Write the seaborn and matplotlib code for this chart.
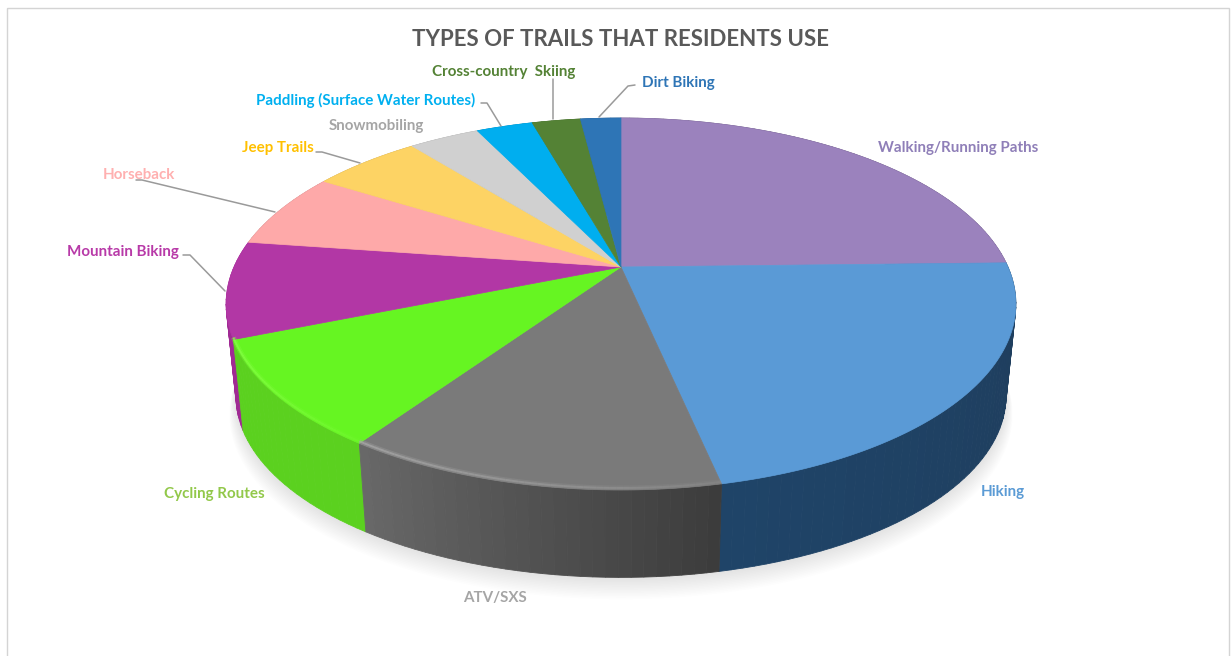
import numpy as np
import matplotlib
matplotlib.use("Agg")
import matplotlib.pyplot as plt
from matplotlib.colors import to_rgb
from matplotlib.patches import Polygon, Rectangle
import seaborn as sns

# Survey shares, clockwise from twelve o'clock
trail_types = ["Walking/Running Paths", "Hiking", "ATV/SXS", "Cycling Routes",
               "Mountain Biking", "Horseback", "Jeep Trails", "Snowmobiling",
               "Paddling (Surface Water Routes)", "Cross-country  Skiing", "Dirt Biking"]
shares = [24.6, 22.0, 12.9, 9.3, 8.4, 6.6, 5.4, 3.5, 2.8, 2.4, 2.0]

face_hex = ["#9b82bd", "#5a9ad6", "#7a7a7a", "#66f522", "#b237a5", "#fea9a9",
            "#fdd364", "#d0d0d0", "#00aeef", "#548235", "#2e75b6"]
wall_from = ["#5a4a70", "#1f4468", "#686868", "#5bd11f", "#a02a94", "#c08080",
             "#c0a050", "#a0a0a0", "#0080b0", "#3f6228", "#1f5588"]
wall_to = ["#5a4a70", "#1f3d5c", "#3c3c3c", "#5bd11f", "#a02a94", "#c08080",
           "#c0a050", "#a0a0a0", "#0080b0", "#3f6228", "#1f5588"]
rim_hex = [None, None, "#a8a8a8", "#86ff45", None, None, None, None, None, None, None]
label_hex = ["#8f7fb8", "#5b9bd5", "#a5a5a5", "#92c84a", "#b83aa8", "#ffb0b0",
             "#ffc000", "#a5a5a5", "#00b0f0", "#548235", "#2e75b6"]

# label anchor: left edge and vertical centre
label_at = [(878, 148), (981, 492), (463, 598), (164, 494), (67, 252), (103, 175),
            (242, 148), (329, 126), (256, 100), (432, 72), (642, 83)]
leaders = [None, None, None, None,
           [(225, 291), (190, 255), (183, 255)],
           [(275, 212), (142, 180), (136, 180)],
           [(360, 163), (322, 152), (316, 152)],
           None,
           [(501, 126), (487, 103), (481, 103)],
           [(553, 119), (553, 79)],
           [(599, 117), (628, 86), (635, 85)]]

sns.set_theme(style="white")
plt.rcParams["font.family"] = ["Lato", "DejaVu Sans"]
faces = sns.color_palette(face_hex)

fig = plt.figure(figsize=(12.31, 6.56), dpi=100)
ax = fig.add_axes([0, 0, 1, 1])
ax.set_xlim(0, 1231)
ax.set_ylim(656, 0)
ax.axis("off")

# Perspective disc: a circle tilted away from the viewer
CX, CY, RX, RY, K = 621.0, 267.0, 387.0, 178.6, 0.199
DROP, SHRINK = 93.0, 0.975


def top_pt(theta):
    u, v = np.sin(theta), np.cos(theta)
    w = 1 + K * v
    return CX + RX * u / w, CY - RY * v / w


def bottom_pt(theta, scale=SHRINK, drop=DROP):
    u, v = np.sin(theta), np.cos(theta)
    w = 1 + K * v
    return CX + scale * RX * u / w, CY + drop - scale * RY * v / w


edges = np.cumsum([0.0] + shares) / sum(shares) * 2 * np.pi

# Soft ground shadow
ring = np.linspace(0, 2 * np.pi, 361)
for i in range(14, 0, -1):
    xs, ys = bottom_pt(ring, SHRINK + 0.0012 * i, DROP + 1.3 * i)
    ax.add_patch(Polygon(np.c_[xs, ys], closed=True, fc="#000000", ec="none", alpha=0.009, zorder=1))

# Side wall, strips sorted back to front
strips = []
for k in range(len(shares)):
    a, b = edges[k], edges[k + 1]
    n = max(int((b - a) / np.radians(1.5)), 2)
    ts = np.linspace(a, b, n + 1)
    c0, c1 = np.array(to_rgb(wall_from[k])), np.array(to_rgb(wall_to[k]))
    for j in range(n):
        col = c0 + (c1 - c0) * ((n - 1 - j) / max(n - 1, 1))
        strips.append((ts[j], ts[j + 1], col))
strips.sort(key=lambda s: top_pt(0.5 * (s[0] + s[1]))[1])
for t0, t1, col in strips:
    tx, ty = top_pt(np.array([t0, t1]))
    bx, by = bottom_pt(np.array([t1, t0]))
    ax.add_patch(Polygon(np.c_[np.r_[tx, bx], np.r_[ty, by]], closed=True,
                         fc=col, ec=col, lw=0.6, zorder=2))

# Top face
for k in range(len(shares)):
    ts = np.linspace(edges[k], edges[k + 1], 120)
    xs, ys = top_pt(ts)
    ax.add_patch(Polygon(np.c_[np.r_[CX, xs], np.r_[CY, ys]], closed=True,
                         fc=faces[k], ec=faces[k], lw=0.5, zorder=3))

# Bevel highlight on the lit front edge: a wide faint stroke under a narrow bright one
for k, rim in enumerate(rim_hex):
    if rim is None:
        continue
    ts = np.linspace(edges[k], edges[k + 1], 60)
    xs, ys = top_pt(ts)
    for j in range(len(ts) - 1):
        fade = j / (len(ts) - 2)
        ax.plot(xs[j:j + 2], ys[j:j + 2] - 2, color=rim, lw=3.6, alpha=0.08 + 0.22 * fade,
                solid_capstyle="butt", zorder=4)
        ax.plot(xs[j:j + 2], ys[j:j + 2] - 2, color=rim, lw=1.4, alpha=0.15 + 0.6 * fade,
                solid_capstyle="butt", zorder=4)

# Leader lines and labels
for pts in leaders:
    if pts is not None:
        ax.plot(*zip(*pts), color="#9a9a9a", lw=1.1, zorder=5)
for name, (x, y), col in zip(trail_types, label_at, label_hex):
    ax.text(x, y, name, color=col, fontsize=10.9, fontweight="bold", ha="left", va="center", zorder=6)

ax.text(621, 39, "TYPES OF TRAILS THAT RESIDENTS USE", color="#595959", fontsize=16.0,
        fontweight="bold", ha="center", va="center", zorder=6)

# Chart frame
ax.add_patch(Rectangle((6.5, 7.5), 1222, 660, fc="none", ec="#d4d4d4", lw=1.0, zorder=0))

fig.savefig("out.png", dpi=100, facecolor="white")
